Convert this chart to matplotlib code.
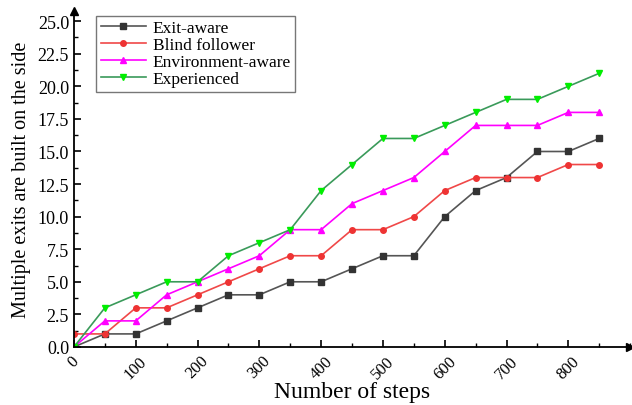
import numpy as np
import matplotlib.pyplot as plt
from matplotlib.ticker import MultipleLocator

plt.rcParams['font.family'] = ['Liberation Serif', 'DejaVu Serif']

steps = [0, 50, 100, 150, 200, 250, 300, 350, 400, 450, 500, 550, 600, 650, 700, 750, 800, 850]
exit_aware = [0, 1, 1, 2, 3, 4, 4, 5, 5, 6, 7, 7, 10, 12, 13, 15, 15, 16]
blind_follower = [1, 1, 3, 3, 4, 5, 6, 7, 7, 9, 9, 10, 12, 13, 13, 13, 14, 14]
env_aware = [0, 2, 2, 4, 5, 6, 7, 9, 9, 11, 12, 13, 15, 17, 17, 17, 18, 18]
experienced = [0, 3, 4, 5, 5, 7, 8, 9, 12, 14, 16, 16, 17, 18, 19, 19, 20, 21]

fig = plt.figure(figsize=(6.32, 4.06), dpi=100)
ax = fig.add_axes([0.117, 0.143, 0.88, 0.828])

ax.plot(steps, exit_aware, color='#555555', lw=1.2, marker='s', ms=4,
        mfc='#333333', mec='#333333', label='Exit-aware')
ax.plot(steps, blind_follower, color='#f04848', lw=1.2, marker='o', ms=4,
        mfc='#ee3333', mec='#ee3333', label='Blind follower')
ax.plot(steps, env_aware, color='#ff00ff', lw=1.2, marker='^', ms=5,
        mfc='#ff00ff', mec='#ff00ff', label='Environment-aware')
ax.plot(steps, experienced, color='#3a9a5a', lw=1.2, marker='v', ms=5,
        mfc='#00ee00', mec='#00ee00', label='Experienced')

ax.set_xlim(0, 900)
ax.set_ylim(0, 25.8)
ax.xaxis.set_major_locator(MultipleLocator(100))
ax.xaxis.set_minor_locator(MultipleLocator(50))
ax.yaxis.set_major_locator(MultipleLocator(2.5))
ax.yaxis.set_minor_locator(MultipleLocator(1.25))
ax.yaxis.set_major_formatter(plt.FormatStrFormatter('%.1f'))
ax.set_xticks([0, 100, 200, 300, 400, 500, 600, 700, 800])

ax.spines['top'].set_visible(False)
ax.spines['right'].set_visible(False)
ax.spines['left'].set_linewidth(1.3)
ax.spines['bottom'].set_linewidth(1.3)
ax.tick_params(which='major', direction='in', length=5, width=1.2)
ax.tick_params(which='minor', direction='in', length=3, width=1.0)
ax.tick_params(axis='y', labelsize=13)
ax.tick_params(axis='x', labelsize=12, pad=4)
plt.setp(ax.get_xticklabels(), rotation=45, ha='center')

# arrow heads at the ends of the axes
ax.plot(1, 0, '>k', ms=6, transform=ax.get_yaxis_transform(), clip_on=False)
ax.plot(0, 1, '^k', ms=6, transform=ax.get_xaxis_transform(), clip_on=False)

ax.set_xlabel('Number of steps', fontsize=17, labelpad=0)
ax.set_ylabel('Multiple exits are built on the side', fontsize=14.5, labelpad=5)

leg = ax.legend(loc='upper left', bbox_to_anchor=(0.04, 0.985), fontsize=12.5,
                frameon=True, fancybox=False, edgecolor='#555555',
                handlelength=2.6, handletextpad=0.4, borderpad=0.25,
                labelspacing=0.05, borderaxespad=0)
leg.get_frame().set_linewidth(1.0)

fig.savefig('out.png', dpi=100)
